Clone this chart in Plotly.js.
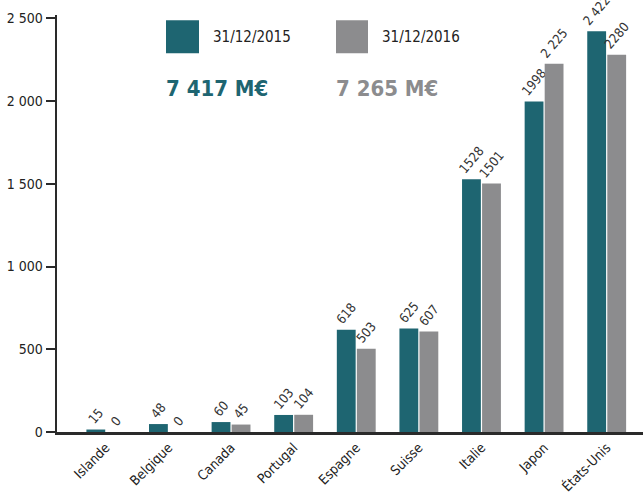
<!DOCTYPE html>
<html>
<head>
<meta charset="utf-8">
<script src="https://cdn.plot.ly/plotly-3.0.1.min.js"></script>
<style>html,body{margin:0;padding:0;background:#fff;}#chart{width:643px;height:496px;}</style>
</head>
<body>
<div id="chart"></div>
<script>
var categories = ["Islande","Belgique","Canada","Portugal","Espagne","Suisse","Italie","Japon","États-Unis"];
var values2015 = [15, 48, 60, 103, 618, 625, 1528, 1998, 2422];
var values2016 = [0, 0, 45, 104, 503, 607, 1501, 2225, 2280];
var labels2015 = ["15","48","60","103","618","625","1528","1998","2 422"];
var labels2016 = ["0","0","45","104","503","607","1501","2 225","2280"];
var yTickVals = [0, 500, 1000, 1500, 2000, 2500];
var yTickText = ["0","500","1 000","1 500","2 000","2 500"];
var seriesNames = ["31/12/2015","31/12/2016"];
var totals = ["7 417 M€","7 265 M€"];

var TEAL = "#1e6571", GRAY = "#8c8c8e";
var FONT = "'DejaVu Sans Condensed','Liberation Sans Narrow','Roboto',sans-serif";

var common = {type:"bar", x:categories, textposition:"outside", textangle:-50, cliponaxis:false,
  constraintext:"none",
  textfont:{family:FONT, size:13, color:"#333"}, hoverinfo:"x+y"};

var traces = [
  Object.assign({}, common, {name:seriesNames[0], y:values2015, text:labels2015, marker:{color:TEAL}}),
  Object.assign({}, common, {name:seriesNames[1], y:values2016, text:labels2016, marker:{color:GRAY}})
];

function px(x){return (x-57)/586;}
function py(y){return (432-y)/417.3;}

var layout = {
  width:643, height:496,
  margin:{l:57, r:0, t:14.7, b:64, pad:0},
  paper_bgcolor:"#fff", plot_bgcolor:"#fff",
  showlegend:false,
  barmode:"group", bargap:0.36, bargroupgap:0.06,
  font:{family:FONT, color:"#222"},
  xaxis:{range:[-0.78, 8.58], tickangle:-45, showgrid:false, zeroline:false,
    showline:true, linecolor:"#2a2a2a", linewidth:2.5, ticks:"",
    tickfont:{family:FONT, size:13.5, color:"#222"}, fixedrange:true},
  yaxis:{range:[0, 2520], tickvals:yTickVals, ticktext:yTickText, showgrid:false, zeroline:false,
    showline:true, linecolor:"#2a2a2a", linewidth:2.5, ticks:"outside", ticklen:9, tickwidth:2,
    tickcolor:"#2a2a2a", tickfont:{family:FONT, size:14, color:"#222"}, fixedrange:true},
  shapes:[
    {type:"rect", xref:"paper", yref:"paper", x0:px(166), x1:px(199), y0:py(53), y1:py(20), fillcolor:TEAL, line:{width:0}},
    {type:"rect", xref:"paper", yref:"paper", x0:px(336), x1:px(368), y0:py(53), y1:py(20), fillcolor:GRAY, line:{width:0}}
  ],
  annotations:[
    {xref:"paper", yref:"paper", x:px(211), y:py(37), xanchor:"left", yanchor:"middle", showarrow:false, text:seriesNames[0], font:{family:FONT, size:15, color:"#222"}},
    {xref:"paper", yref:"paper", x:px(380), y:py(37), xanchor:"left", yanchor:"middle", showarrow:false, text:seriesNames[1], font:{family:FONT, size:15, color:"#222"}},
    {xref:"paper", yref:"paper", x:px(164), y:py(88), xanchor:"left", yanchor:"middle", showarrow:false, text:"<b>"+totals[0]+"</b>", font:{family:FONT, size:22, color:TEAL}},
    {xref:"paper", yref:"paper", x:px(334), y:py(88), xanchor:"left", yanchor:"middle", showarrow:false, text:"<b>"+totals[1]+"</b>", font:{family:FONT, size:22, color:GRAY}}
  ],
  separators:", "
};

Plotly.newPlot("chart", traces, layout, {displayModeBar:false, staticPlot:true});
</script>
</body>
</html>
